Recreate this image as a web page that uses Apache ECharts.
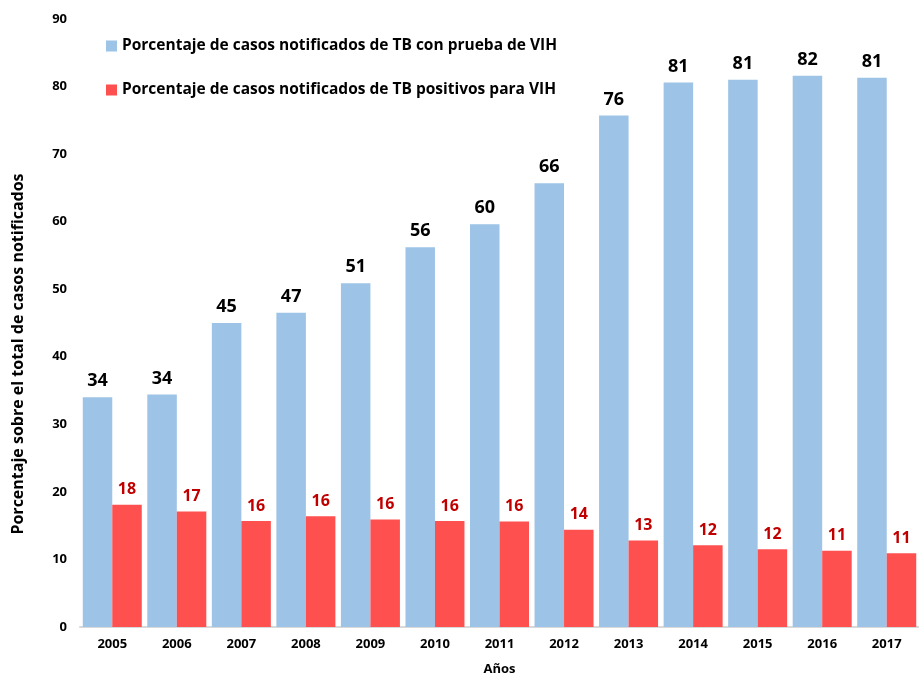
<!DOCTYPE html>
<html><head><meta charset="utf-8">
<script src="https://cdn.jsdelivr.net/npm/echarts@6/dist/echarts.min.js"></script>
<style>html,body{margin:0;padding:0;background:#fff;overflow:hidden}#c{width:100vw;height:100vh}</style>
</head><body><div id="c"></div>
<script>
const years = ['2005','2006','2007','2008','2009','2010','2011','2012','2013','2014','2015','2016','2017'];
const tested = [34.0,34.4,45.0,46.5,50.9,56.2,59.6,65.7,75.7,80.6,81.0,81.6,81.3];
const positive = [18.1,17.1,15.7,16.4,15.9,15.7,15.6,14.4,12.8,12.1,11.5,11.3,10.9];
const seriesNames = ['Porcentaje de casos notificados de TB con prueba de VIH','Porcentaje de casos notificados de TB positivos para VIH'];
const yTicks = {min:0, max:90, interval:10};
const yName = 'Porcentaje sobre el total de casos notificados';
const font = '"Open Sans", "Noto Sans", sans-serif';
const chart = echarts.init(document.getElementById('c'), null, {renderer:'canvas'});
chart.setOption({
  animation:false,
  backgroundColor:'#fff',
  textStyle:{fontFamily:font},
  grid:{left:80, width:845, top:19, bottom:50, containLabel:false},
  legend:{orient:'vertical', left:101, top:33, itemGap:28, itemWidth:11, itemHeight:11, icon:'rect',
    textStyle:{fontFamily:font, fontWeight:'bold', fontSize:15.5, color:'#000'},
    data:seriesNames},
  graphic:[{type:'text', x:18, y:354, rotation:Math.PI/2,
    style:{text:yName, fontFamily:font, fontWeight:'bold', fontSize:16, fill:'#000',
      align:'center', verticalAlign:'middle'}}],
  xAxis:{type:'category', data:years,
    axisLine:{lineStyle:{color:'#D9D9D9', width:2}}, axisTick:{show:false},
    axisLabel:{fontFamily:font, fontWeight:'bold', fontSize:13, color:'#000', margin:11},
    name:'Años', nameLocation:'middle', nameGap:36,
    nameTextStyle:{fontFamily:font, fontWeight:'bold', fontSize:13, color:'#000'}},
  yAxis:{type:'value', min:yTicks.min, max:yTicks.max, interval:yTicks.interval,
    splitLine:{show:false}, axisLine:{show:false}, axisTick:{show:false},
    axisLabel:{fontFamily:font, fontWeight:'bold', fontSize:13, color:'#000', margin:13}},
  series:[
    {name:seriesNames[0], type:'bar', data:tested, barWidth:29.5, barGap:'0%',
      itemStyle:{color:'#9DC3E6'},
      label:{show:true, position:'top', distance:7, formatter:p=>Math.round(p.value),
        fontFamily:font, fontWeight:'bold', fontSize:18, color:'#000'}},
    {name:seriesNames[1], type:'bar', data:positive, barWidth:29.5,
      itemStyle:{color:'#FF5050'},
      label:{show:true, position:'top', distance:7, formatter:p=>Math.round(p.value),
        fontFamily:font, fontWeight:'bold', fontSize:16, color:'#C00000'}}
  ]
});
</script></body></html>
